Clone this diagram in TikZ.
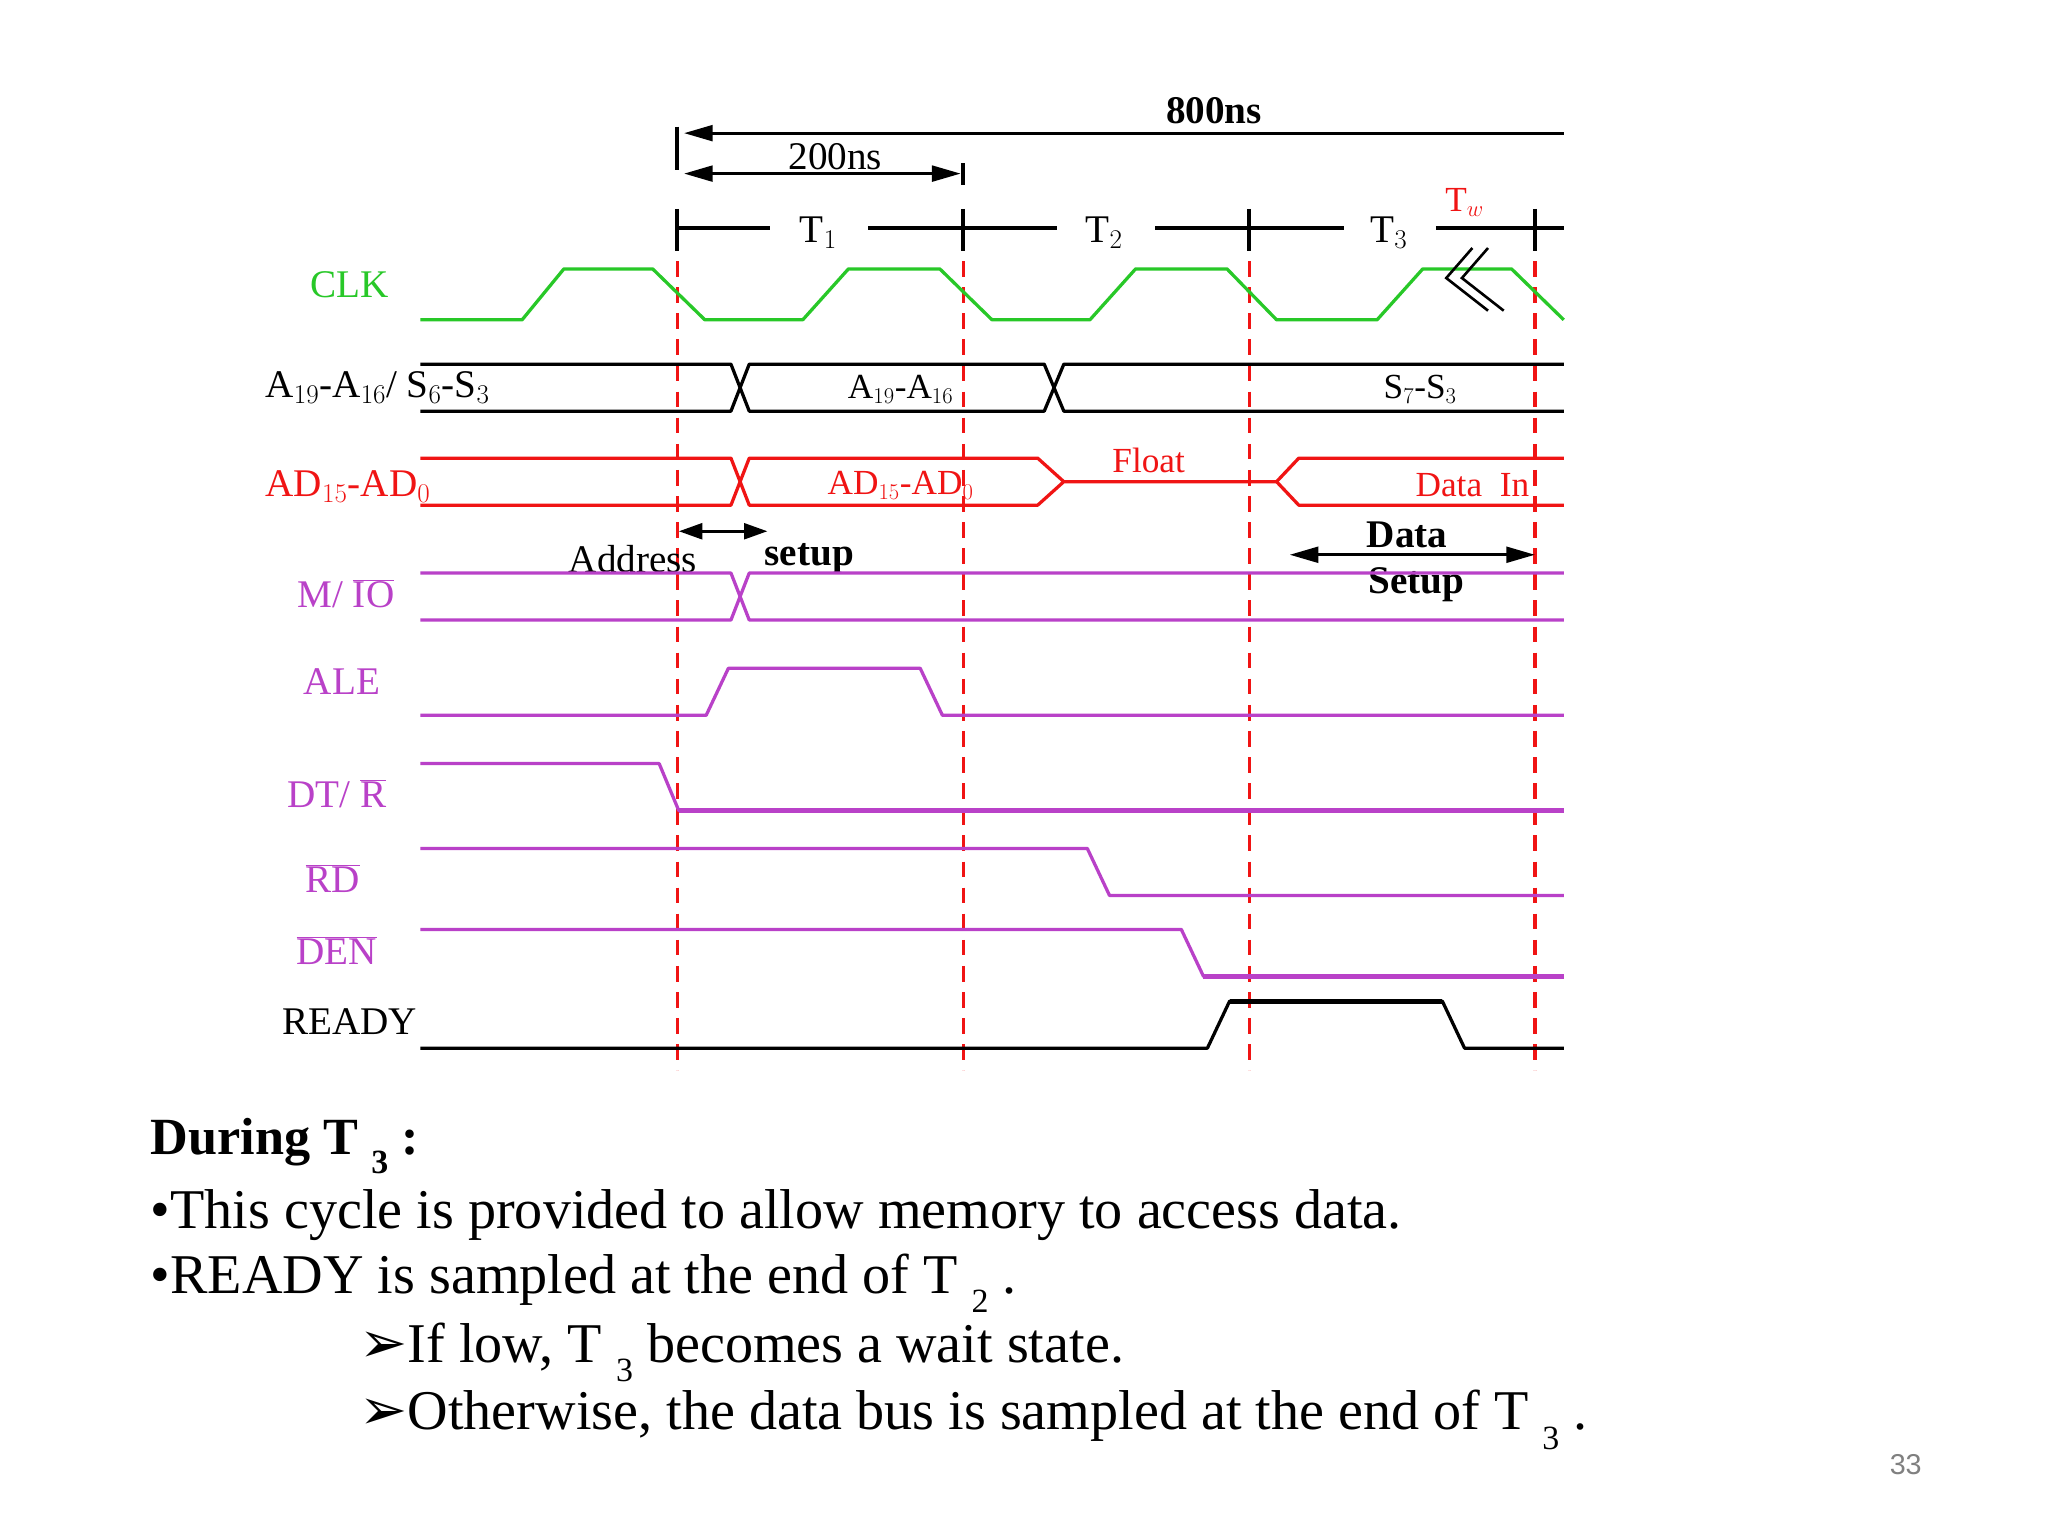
\documentclass[tikz,border=0pt]{standalone}
\usepackage{fontspec}
\setmainfont{Liberation Serif}
\newfontfamily\dv{DejaVu Sans}
\newfontfamily\lsans{Liberation Sans}
\usetikzlibrary{arrows.meta}
\definecolor{cg}{RGB}{40,200,40}
\definecolor{cr}{RGB}{240,20,20}
\definecolor{cp}{RGB}{185,65,200}
\newcommand{\sbs}[1]{\raisebox{-0.35em}{\fontsize{26}{26}\selectfont #1}}
\begin{document}
\begin{tikzpicture}[x=1pt,y=-1pt,
  sig/.style={line width=2.5pt,line join=round},
  lab/.style={font=\fontsize{30}{30}\selectfont},
  small/.style={font=\fontsize{27}{27}\selectfont},
  txt/.style={anchor=west,font=\fontsize{43}{43}\selectfont},
  dim/.style={line width=2.5pt,-{Triangle[length=22pt,width=12pt]}}]
\useasboundingbox[fill=white] (0,0) rectangle (1569,1176);
% dashed lines
\foreach \x in {519,738,957,1176}
  \draw[cr,line width=2.5pt,dash pattern=on 12pt off 8pt] (\x,180) -- (\x,820);
% 800ns / 200ns
\draw[line width=3pt] (519,97) -- (519,130);
\draw[line width=3pt] (738,125) -- (738,142);
\draw[dim] (1198,102) -- (524,102);
\draw[dim,{Triangle[length=22pt,width=12pt]}-{Triangle[length=22pt,width=12pt]}] (524,133) -- (736,133);
\node[lab,font=\bfseries\fontsize{30}{30}\selectfont] (n800) at (930,85) {800ns};
\node[lab] (n200) at (640,120) {200ns};
% T line
\foreach \x in {519,738,957,1176} \draw[line width=3pt] (\x,160) -- (\x,192);
\draw[line width=3pt] (519,175)--(590,175) (665,175)--(810,175) (885,175)--(1030,175) (1100,175)--(1198,175);
\node[lab] (t1) at (627,178) {T$_1$};
\node[lab] (t2) at (846,178) {T$_2$};
\node[lab] (t3) at (1064,178) {T$_3$};
\node[small,cr] (tw) at (1122,155) {T$_w$};
% CLK
\draw[cg,sig] (322,245)--(400,245)--(432,206)--(500,206)--(540,245)--(615,245)--(650,206)--(720,206)--(760,245)--(835,245)--(870,206)--(940,206)--(978,245)--(1055,245)--(1090,206)--(1158,206)--(1198,245);
\draw[line width=2pt] (1128,190)--(1108,213)--(1140,238) (1140,190)--(1120,213)--(1152,238);
\node[lab,cg] (clk) at (268,218) {CLK};
% A bus
\draw[sig] (322,279)--(560,279)--(574,315)--(800,315)--(815,279)--(1198,279);
\draw[sig] (322,315)--(560,315)--(574,279)--(800,279)--(815,315)--(1198,315);
\node[lab,anchor=west] (alab) at (200,297) {A$_{19}$-A$_{16}$/ S$_6$-S$_3$};
\node[small] (ain) at (690,298) {A$_{19}$-A$_{16}$};
\node[small] (sin) at (1088,298) {S$_7$-S$_3$};
% AD bus
\draw[cr,sig] (322,351)--(560,351)--(574,387)--(795,387)--(815,369)--(978,369)--(995,351)--(1198,351);
\draw[cr,sig] (322,387)--(560,387)--(574,351)--(795,351)--(815,369);
\draw[cr,sig] (978,369)--(995,387)--(1198,387);
\node[lab,cr,anchor=west] (adlab) at (200,373) {AD$_{15}$-AD$_0$};
\node[small,cr] (adin) at (690,372) {AD$_{15}$-AD$_0$};
\node[small,cr] (fl) at (880,353) {Float};
\node[small,cr] (din) at (1128,372) {Data\ \ In};
% setups
\draw[dim,{Triangle[length=18pt,width=12pt]}-{Triangle[length=18pt,width=12pt]}] (520,407) -- (588,407);
\node[lab] (addr) at (485,428) {Address};
\node[lab,font=\bfseries\fontsize{30}{30}\selectfont] (setup) at (620,428) {setup};
\draw[dim,{Triangle[length=22pt,width=12pt]}-{Triangle[length=22pt,width=12pt]}] (988,425) -- (1176,425);
\node[lab,font=\bfseries\fontsize{30}{30}\selectfont] (data) at (1078,410) {Data};
\node[lab,font=\bfseries\fontsize{30}{30}\selectfont] (dset) at (1085,448) {Setup};
% M/IO
\draw[cp,sig] (322,439)--(560,439)--(574,475)--(1198,475);
\draw[cp,sig] (322,475)--(560,475)--(574,439)--(1198,439);
\node[lab,cp] (mio) at (265,455) {M/ $\overline{\mathrm{IO}}$};
% ALE
\draw[cp,sig] (322,548)--(541,548)--(558,512)--(705,512)--(722,548)--(1198,548);
\node[lab,cp] (ale) at (262,522) {ALE};
% DT/R
\draw[cp,sig] (322,585)--(505,585)--(520,621)--(1198,621);
\draw[cp,line width=4pt] (520,621)--(1198,621);
\node[lab,cp] (dtr) at (258,608) {DT/ $\overline{\mathrm{R}}$};
% RD
\draw[cp,sig] (322,650)--(833,650)--(850,686)--(1198,686);
\node[lab,cp] (rd) at (255,673) {$\overline{\mathrm{RD}}$};
% DEN
\draw[cp,sig] (322,712)--(905,712)--(922,748)--(1198,748);
\draw[cp,line width=4pt] (922,748)--(1198,748);
\node[lab,cp] (den) at (258,728) {$\overline{\mathrm{DEN}}$};
% READY
\draw[sig] (322,803)--(925,803)--(942,767)--(1105,767)--(1122,803)--(1198,803);
\draw[line width=4pt] (942,767)--(1105,767);
\node[lab] (rdy) at (268,783) {READY};
% text
\node[txt,font=\bfseries\fontsize{40}{40}\selectfont] (h) at (112,878) {During T \sbs{3} :};
\node[txt] (b1) at (112,931) {•This cycle is provided to allow memory to access data.};
\node[txt] (b2) at (112,983) {•READY is sampled at the end of T \sbs{2} .};
\node[txt] (b3) at (272,1036) {{\dv\bfseries\fontsize{44}{44}\selectfont ➢}If low, T \sbs{3} becomes a wait state.};
\node[txt] (b4) at (272,1088) {{\dv\bfseries\fontsize{44}{44}\selectfont ➢}Otherwise, the data bus is sampled at the end of T \sbs{3} .};
\node[text=gray,font=\lsans\fontsize{22}{22}\selectfont] (pg) at (1460,1122) {33};
\end{tikzpicture}
\end{document}
